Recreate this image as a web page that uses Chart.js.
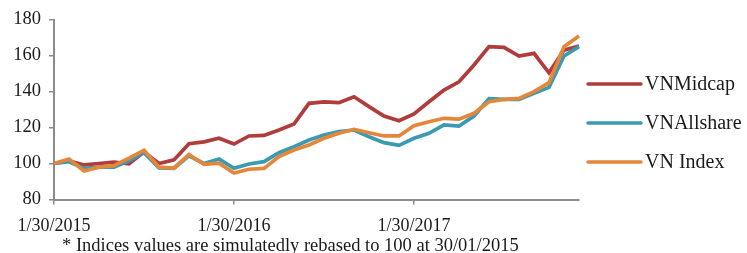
<html>
<head>
<meta charset="utf-8">
<title>VN indices</title>
<script src="https://cdn.jsdelivr.net/npm/chart.js"></script>
<style>
  body { margin: 0; background: #fff; }
</style>
</head>
<body>
<canvas id="myChart" width="747" height="253"></canvas>
<script>
// monthly points, Jan 2015 .. Dec 2017
var months = ['1/30/2015','2/27/2015','3/31/2015','4/29/2015','5/29/2015','6/30/2015',
              '7/31/2015','8/31/2015','9/30/2015','10/30/2015','11/30/2015','12/31/2015',
              '1/30/2016','2/29/2016','3/31/2016','4/29/2016','5/31/2016','6/30/2016',
              '7/29/2016','8/31/2016','9/30/2016','10/31/2016','11/30/2016','12/30/2016',
              '1/30/2017','2/28/2017','3/31/2017','4/28/2017','5/31/2017','6/30/2017',
              '7/31/2017','8/31/2017','9/29/2017','10/31/2017','11/30/2017','12/29/2017'];
var tickLabels = ['1/30/2015', '1/30/2016', '1/30/2017'];

var vnMidcap = [100, 101.5, 99.2, 100, 100.8, 99.8, 106.3, 100, 102, 111, 112, 114,
                110.8, 115.3, 115.6, 118.6, 121.9, 133.4, 134.2, 133.8, 137.1, 131.6, 126.4, 123.8,
                127.5, 134.3, 140.8, 145.4, 154.7, 164.9, 164.5, 159.7, 161.2, 150.4, 163, 165.3];
var vnAllshare = [100, 101, 97.3, 98, 98, 101.5, 106, 97.5, 97.3, 104.2, 100, 102.5,
                  97.3, 99.7, 101, 106, 109.3, 113, 115.8, 117.7, 118.6, 114.9, 111.6, 110.1,
                  114, 116.8, 121.4, 120.8, 126.4, 136, 135.6, 135.6, 139, 142.3, 159.7, 164.9];
var vnIndex = [100, 102.5, 95.8, 98, 98.8, 103, 107.3, 98, 97.5, 105, 99.5, 100.2,
               94.7, 96.8, 97.3, 103.8, 107.5, 110.3, 114, 116.8, 119, 117.1, 115.3, 115.3,
               121, 123.2, 125.1, 124.6, 127.9, 134.3, 135.6, 136.2, 139.9, 144.9, 164.9, 170.8];

var seriesNames = ['VNMidcap', 'VNAllshare', 'VN Index'];
var colors = ['#B03C3C', '#3A9AB2', '#E5873A'];
var footnote = '* Indices values are simulatedly rebased to 100 at 30/01/2015';

var serif = '"Liberation Serif", "Times New Roman", serif';
var axisGray = '#8c8c8c';

// legend + footnote drawn by hand on the right / bottom
var extras = {
  id: 'extras',
  afterDraw: function(chart) {
    var ctx = chart.ctx;
    ctx.save();
    ctx.font = '20px ' + serif;
    ctx.textBaseline = 'middle';
    ctx.textAlign = 'left';
    var ys = [84, 123, 162];
    seriesNames.forEach(function(name, i) {
      ctx.strokeStyle = colors[i];
      ctx.lineWidth = 3.5;
      ctx.lineCap = 'round';
      ctx.beginPath();
      ctx.moveTo(588, ys[i]);
      ctx.lineTo(641, ys[i]);
      ctx.stroke();
      ctx.fillStyle = '#1a1a1a';
      ctx.fillText(name, 645, ys[i] + 1);
    });
    ctx.font = '18.5px ' + serif;
    ctx.textAlign = 'left';
    ctx.fillText(footnote, 62, 246);
    ctx.restore();
  }
};

var data = {
  labels: months,
  datasets: [vnMidcap, vnAllshare, vnIndex].map(function(vals, i) {
    return {
      label: seriesNames[i],
      data: vals,
      borderColor: colors[i],
      backgroundColor: colors[i],
      borderWidth: 3.7,
      pointRadius: 0,
      tension: 0,
      order: 3 - i
    };
  })
};

var config = {
  type: 'line',
  data: data,
  plugins: [extras],
  options: {
    responsive: false,
    animation: false,
    devicePixelRatio: 1,
    layout: { padding: { left: 0, right: 168, top: 19.5, bottom: 0 } },
    plugins: {
      legend: { display: false },
      tooltip: { enabled: false }
    },
    scales: {
      x: {
        offset: false,
        afterFit: function(s) { s.height = 53.5; },
        border: { display: true, color: axisGray, width: 2 },
        grid: {
          drawOnChartArea: false,
          drawTicks: true,
          tickLength: 5,
          lineWidth: 1.5,
          color: function(c) { return c.index % 12 === 0 ? axisGray : 'rgba(0,0,0,0)'; }
        },
        ticks: {
          autoSkip: false,
          maxRotation: 0,
          padding: 11,
          color: '#1a1a1a',
          font: { family: serif, size: 18 },
          callback: function(v, i) {
            return i % 12 === 0 ? tickLabels[i / 12] : '';
          }
        }
      },
      y: {
        min: 80,
        max: 180,
        afterFit: function(s) { s.width = 54; },
        border: { display: true, color: axisGray, width: 2 },
        grid: {
          drawOnChartArea: false,
          drawTicks: true,
          tickLength: 5,
          lineWidth: 1.5,
          color: axisGray
        },
        ticks: {
          stepSize: 20,
          padding: 8,
          color: '#1a1a1a',
          font: { family: serif, size: 18.5 }
        }
      }
    }
  }
};

var myChart = new Chart(document.getElementById('myChart').getContext('2d'), config);
</script>
</body>
</html>
